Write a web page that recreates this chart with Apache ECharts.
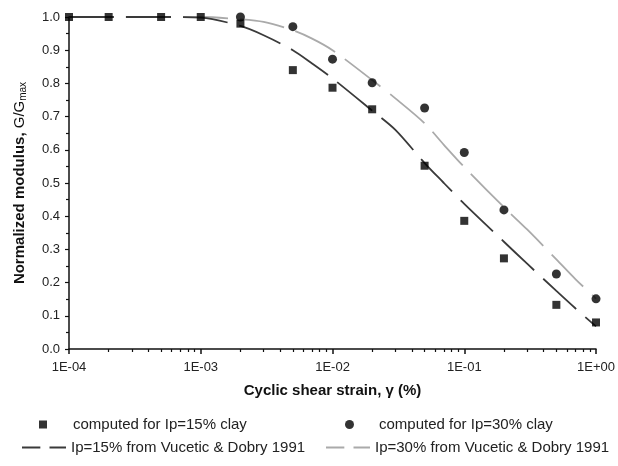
<!DOCTYPE html>
<html>
<head>
<meta charset="utf-8">
<script src="https://cdn.jsdelivr.net/npm/echarts@6/dist/echarts.min.js"></script>
<style>
  html, body { margin: 0; padding: 0; background: #fff; }
  #chart { width: 618px; height: 466px; }
</style>
</head>
<body>
<div id="chart"></div>
<script>
// computed points (strain in %, G/Gmax)
var gamma15 = [1e-4, 2e-4, 5e-4, 1e-3, 2e-3, 5e-3, 1e-2, 2e-2, 5e-2, 1e-1, 2e-1, 5e-1, 1];
var comp15 = [1.0, 1.0, 1.0, 1.0, 0.98, 0.84, 0.787, 0.722, 0.552, 0.386, 0.273, 0.133, 0.08];
var gamma30 = [2e-3, 5e-3, 1e-2, 2e-2, 5e-2, 1e-1, 2e-1, 5e-1, 1];
var comp30 = [1.0, 0.971, 0.873, 0.802, 0.726, 0.592, 0.419, 0.226, 0.151];

// Vucetic & Dobry 1991 curves
var vdGamma = [1e-4, 2e-4, 5e-4, 1e-3, 2e-3, 3e-3, 5e-3, 7e-3, 1e-2, 2e-2, 3e-2, 5e-2, 7e-2, 1e-1, 2e-1, 3e-1, 5e-1, 7e-1, 1];
var vd15 = [1.0, 1.0, 1.0, 0.998, 0.973, 0.945, 0.90, 0.86, 0.815, 0.718, 0.66, 0.56, 0.50, 0.437, 0.323, 0.257, 0.175, 0.122, 0.068];
var vd30 = [1.0, 1.0, 1.0, 1.0, 0.993, 0.985, 0.96, 0.935, 0.90, 0.81, 0.755, 0.68, 0.615, 0.548, 0.427, 0.36, 0.27, 0.21, 0.152];

// axis ticks
var xTicks = [1e-4, 1e-3, 1e-2, 1e-1, 1];
var xTickLabels = ['1E-04', '1E-03', '1E-02', '1E-01', '1E+00'];
var xMinorTicks = [2e-4, 3e-4, 4e-4, 5e-4, 6e-4, 7e-4, 8e-4, 9e-4,
                   2e-3, 3e-3, 4e-3, 5e-3, 6e-3, 7e-3, 8e-3, 9e-3,
                   2e-2, 3e-2, 4e-2, 5e-2, 6e-2, 7e-2, 8e-2, 9e-2,
                   2e-1, 3e-1, 4e-1, 5e-1, 6e-1, 7e-1, 8e-1, 9e-1];

var names = ['computed for Ip=15% clay', 'computed for Ip=30% clay',
             'Ip=15% from Vucetic & Dobry 1991', 'Ip=30% from Vucetic & Dobry 1991'];

function pairs(xs, ys) {
  var out = [];
  for (var i = 0; i < xs.length; i++) out.push([xs[i], ys[i]]);
  return out;
}

var chart = echarts.init(document.getElementById('chart'));
var labelFont = 'Arial, "Liberation Sans", sans-serif';
// two short dashes, like the old Excel legend key
var dashIcon = 'path://M0,0h20v2h-20zM30,0h18v2h-18z';

function legendAt(item, left, top, w, h, pad) {
  return {
    data: [item],
    left: left,
    top: top,
    itemWidth: w,
    itemHeight: h,
    selectedMode: false,
    textStyle: { fontFamily: labelFont, fontSize: 15, color: '#222', padding: [0, 0, 0, pad] }
  };
}

chart.setOption({
  animation: false,
  grid: { left: 69, right: 17, top: 17, bottom: 117 },
  legend: [
    legendAt(names[0], 34, 412, 8, 8, 21),
    legendAt(names[1], 340, 412, 9, 9, 20),
    legendAt({ name: names[2], icon: dashIcon }, 17, 435, 44, 2, 0),
    legendAt({ name: names[3], icon: dashIcon }, 321, 435, 44, 2, 0)
  ],
  xAxis: [{
    type: 'log',
    logBase: 10,
    min: 1e-4,
    max: 1,
    name: 'Cyclic shear strain, \u03b3 (%)',
    nameLocation: 'middle',
    nameGap: 34,
    nameTextStyle: { fontFamily: labelFont, fontWeight: 'bold', fontSize: 15, color: '#111' },
    axisLine: { lineStyle: { color: '#111', width: 1.5 } },
    axisTick: { show: true, length: 5, customValues: xTicks, lineStyle: { color: '#111', width: 1.5 } },
    axisLabel: {
      customValues: xTicks,
      margin: 12,
      fontFamily: labelFont,
      fontSize: 13,
      color: '#222',
      formatter: function (v) {
        var i = Math.round(Math.log10(v)) + 4;
        return xTickLabels[i];
      }
    },
    splitLine: { show: false }
  }, {
    type: 'log',
    logBase: 10,
    min: 1e-4,
    max: 1,
    position: 'bottom',
    axisLine: { show: false },
    axisTick: { show: true, length: 3, customValues: xMinorTicks, lineStyle: { color: '#111', width: 1.2 } },
    axisLabel: { show: false },
    splitLine: { show: false }
  }],
  yAxis: {
    type: 'value',
    min: 0,
    max: 1,
    interval: 0.1,
    name: '{a|Normalized modulus, }{b|G/G}{c|max}',
    nameLocation: 'middle',
    nameGap: 41,
    nameRotate: 90,
    nameTextStyle: {
      rich: {
        a: { fontFamily: labelFont, fontWeight: 'bold', fontSize: 15, color: '#111' },
        b: { fontFamily: labelFont, fontSize: 15, color: '#111' },
        c: { fontFamily: labelFont, fontSize: 10, color: '#111', padding: [7, 0, 0, 0] }
      }
    },
    axisLine: { show: true, lineStyle: { color: '#111', width: 1.5 } },
    axisTick: { show: true, length: 4, lineStyle: { color: '#111', width: 1.2 } },
    minorTick: { show: true, splitNumber: 2, length: 3, lineStyle: { color: '#111', width: 1.2 } },
    axisLabel: {
      margin: 9,
      fontFamily: labelFont,
      fontSize: 13,
      color: '#222',
      formatter: function (v) { return v.toFixed(1); }
    },
    splitLine: { show: false }
  },
  series: [
    {
      name: names[3],
      type: 'line',
      data: pairs(vdGamma, vd30),
      smooth: 0.3,
      symbol: 'none',
      lineStyle: { color: '#aaaaaa', width: 1.8, type: [45, 12] },
      itemStyle: { color: '#aaaaaa' },
      z: 2
    },
    {
      name: names[2],
      type: 'line',
      data: pairs(vdGamma, vd15),
      smooth: 0.3,
      symbol: 'none',
      lineStyle: { color: '#3a3a3a', width: 1.8, type: [45, 12] },
      itemStyle: { color: '#3a3a3a' },
      z: 2
    },
    {
      name: names[1],
      type: 'scatter',
      data: pairs(gamma30, comp30),
      symbol: 'circle',
      symbolSize: 9,
      itemStyle: { color: '#000' },
      z: 3
    },
    {
      name: names[0],
      type: 'scatter',
      data: pairs(gamma15, comp15),
      symbol: 'rect',
      symbolSize: 8,
      itemStyle: { color: '#000' },
      z: 4
    }
  ]
});
</script>
</body>
</html>
